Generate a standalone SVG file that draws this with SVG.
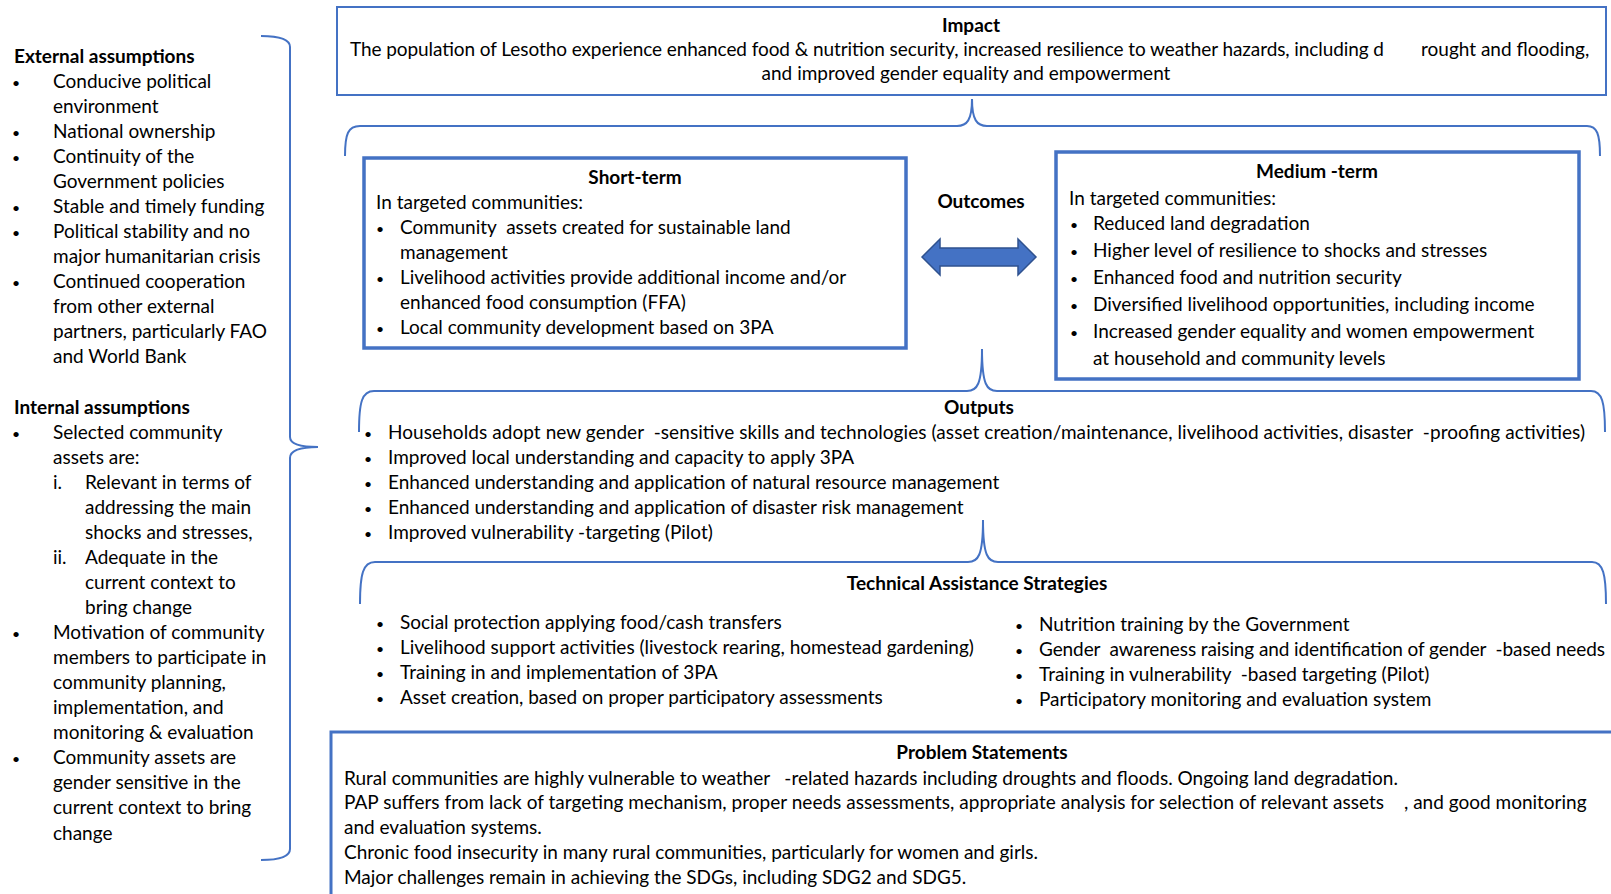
<svg xmlns="http://www.w3.org/2000/svg" width="1611" height="894" viewBox="0 0 1611 894">
<style>
.t{font-family:Lato,"Liberation Sans",sans-serif;font-size:19px;fill:#000;transform:translateY(0.5px)}
.b{font-weight:bold}
.c{text-anchor:middle}
.bu{font-size:14px;text-anchor:middle}
.br{fill:none;stroke:#4472C4;stroke-width:2}
.box{fill:#fff;stroke:#4472C4}
</style>
<rect width="1611" height="894" fill="#fff"/>
<g id="connectors">
<path class="br" d="M261,36 Q290,36 290,47 L290,437 Q290,447 318,447 Q290,447 290,458 L290,849 Q290,860 261,860"/>
<path class="br" d="M345,156 C345,134 348,126 360,126 L957,126 C967,126 972,120 972,99 C972,120 977,126 987,126 L1587,126 C1597,126 1600,134 1600,156"/>
<path class="br" d="M359,432 C359,402 362,391 374,391 L967,391 C977,391 982,385 982,349 C982,385 987,391 997,391 L1591,391 C1602,391 1605,402 1605,432"/>
<path class="br" d="M360,604 C360,574 363,562 375,562 L968,562 C978,562 983,556 983,520 C983,556 988,562 998,562 L1592,562 C1603,562 1606,574 1606,604"/>
<polygon points="922,257 940,239 940,248 1018,248 1018,239 1036,257 1018,275 1018,266 940,266 940,275" fill="#4472C4" stroke="#2F528F" stroke-width="1.5"/>
</g>
<g id="assumptions">
<text class="t b" x="14" y="62">External assumptions</text>
<g class="t">
<text class="bu" x="16" y="87">•</text><text x="53" y="87">Conducive political</text>
<text x="53" y="112">environment</text>
<text class="bu" x="16" y="137">•</text><text x="53" y="137">National ownership</text>
<text class="bu" x="16" y="162">•</text><text x="53" y="162">Continuity of the</text>
<text x="53" y="187">Government policies</text>
<text class="bu" x="16" y="212">•</text><text x="53" y="212">Stable and timely funding</text>
<text class="bu" x="16" y="237">•</text><text x="53" y="237">Political stability and no</text>
<text x="53" y="262">major humanitarian crisis</text>
<text class="bu" x="16" y="287">•</text><text x="53" y="287">Continued cooperation</text>
<text x="53" y="312.5">from other external</text>
<text x="53" y="337.5">partners, particularly FAO</text>
<text x="53" y="362.5">and World Bank</text>
</g>
<text class="t b" x="14" y="413">Internal assumptions</text>
<g class="t">
<text class="bu" x="16" y="438">•</text><text x="53" y="438">Selected community</text>
<text x="53" y="463">assets are:</text>
<text x="53" y="488">i.</text><text x="85" y="488">Relevant in terms of</text>
<text x="85" y="513">addressing the main</text>
<text x="85" y="538">shocks and stresses,</text>
<text x="53" y="563">ii.</text><text x="85" y="563">Adequate in the</text>
<text x="85" y="588">current context to</text>
<text x="85" y="613">bring change</text>
<text class="bu" x="16" y="638">•</text><text x="53" y="638">Motivation of community</text>
<text x="53" y="663">members to participate in</text>
<text x="53" y="688">community planning,</text>
<text x="53" y="713">implementation, and</text>
<text x="53" y="738.5">monitoring &amp; evaluation</text>
<text class="bu" x="16" y="763.5">•</text><text x="53" y="763.5">Community assets are</text>
<text x="53" y="788.5">gender sensitive in the</text>
<text x="53" y="813.5">current context to bring</text>
<text x="53" y="839">change</text>
</g>
</g>
<g id="impact">
<rect class="box" x="337" y="7" width="1269" height="88" stroke-width="2"/>
<text class="t b c" x="971" y="31">Impact</text>
<text class="t" x="350" y="55" textLength="1034">The population of Lesotho experience enhanced food &amp; nutrition security, increased resilience to weather hazards, including d</text>
<text class="t" x="1421" y="55">rought and flooding,</text>
<text class="t c" x="966" y="79">and improved gender equality and empowerment</text>
</g>
<g id="short-term">
<rect class="box" x="364" y="158" width="542" height="190" stroke-width="3.5"/>
<text class="t b c" x="635" y="183">Short-term</text>
<g class="t">
<text x="376" y="208">In targeted communities:</text>
<text class="bu" x="380" y="233">•</text><text x="400" y="233" xml:space="preserve">Community  assets created for sustainable land</text>
<text x="400" y="258">management</text>
<text class="bu" x="380" y="283">•</text><text x="400" y="283">Livelihood activities provide additional income and/or</text>
<text x="400" y="308">enhanced food consumption (FFA)</text>
<text class="bu" x="380" y="333">•</text><text x="400" y="333">Local community development based on 3PA</text>
</g>
</g>
<g id="outcomes-label">
<text class="t b c" x="981" y="207">Outcomes</text>
</g>
<g id="medium-term">
<rect class="box" x="1056" y="152" width="523" height="227" stroke-width="3.5"/>
<text class="t b c" x="1317" y="177">Medium -term</text>
<g class="t">
<text x="1069" y="204">In targeted communities:</text>
<text class="bu" x="1074" y="229">•</text><text x="1093" y="229">Reduced land degradation</text>
<text class="bu" x="1074" y="256">•</text><text x="1093" y="256">Higher level of resilience to shocks and stresses</text>
<text class="bu" x="1074" y="283">•</text><text x="1093" y="283">Enhanced food and nutrition security</text>
<text class="bu" x="1074" y="310">•</text><text x="1093" y="310">Diversified livelihood opportunities, including income</text>
<text class="bu" x="1074" y="337">•</text><text x="1093" y="337">Increased gender equality and women empowerment</text>
<text x="1093" y="364">at household and community levels</text>
</g>
</g>
<g id="outputs">
<text class="t b c" x="979" y="413">Outputs</text>
<g class="t">
<text class="bu" x="368" y="438.5">•</text><text x="388" y="438.5" xml:space="preserve" textLength="1197">Households adopt new gender  -sensitive skills and technologies (asset creation/maintenance, livelihood activities, disaster  -proofing activities)</text>
<text class="bu" x="368" y="463.5">•</text><text x="388" y="463.5">Improved local understanding and capacity to apply 3PA</text>
<text class="bu" x="368" y="488.5">•</text><text x="388" y="488.5">Enhanced understanding and application of natural resource management</text>
<text class="bu" x="368" y="513">•</text><text x="388" y="513">Enhanced understanding and application of disaster risk management</text>
<text class="bu" x="368" y="538">•</text><text x="388" y="538">Improved vulnerability -targeting (Pilot)</text>
</g>
</g>
<g id="strategies">
<text class="t b c" x="977" y="589">Technical Assistance Strategies</text>
<g class="t">
<text class="bu" x="380" y="628">•</text><text x="400" y="628">Social protection applying food/cash transfers</text>
<text class="bu" x="380" y="653">•</text><text x="400" y="653">Livelihood support activities (livestock rearing, homestead gardening)</text>
<text class="bu" x="380" y="678">•</text><text x="400" y="678">Training in and implementation of 3PA</text>
<text class="bu" x="380" y="703">•</text><text x="400" y="703">Asset creation, based on proper participatory assessments</text>
<text class="bu" x="1019" y="630">•</text><text x="1039" y="630">Nutrition training by the Government</text>
<text class="bu" x="1019" y="655">•</text><text x="1039" y="655" xml:space="preserve" textLength="566">Gender  awareness raising and identification of gender  -based needs</text>
<text class="bu" x="1019" y="680">•</text><text x="1039" y="680" xml:space="preserve">Training in vulnerability  -based targeting (Pilot)</text>
<text class="bu" x="1019" y="705.5">•</text><text x="1039" y="705.5">Participatory monitoring and evaluation system</text>
</g>
</g>
<g id="problem">
<rect class="box" x="331" y="732" width="1300" height="200" stroke-width="3"/>
<text class="t b c" x="982" y="758">Problem Statements</text>
<g class="t">
<text x="344" y="784" xml:space="preserve">Rural communities are highly vulnerable to weather   -related hazards including droughts and floods. Ongoing land degradation.</text>
<text x="344" y="808" textLength="1040">PAP suffers from lack of targeting mechanism, proper needs assessments, appropriate analysis for selection of relevant assets</text>
<text x="1404" y="808">, and good monitoring</text>
<text x="344" y="833">and evaluation systems.</text>
<text x="344" y="858">Chronic food insecurity in many rural communities, particularly for women and girls.</text>
<text x="344" y="883">Major challenges remain in achieving the SDGs, including SDG2 and SDG5.</text>
</g>
</g>
</svg>
